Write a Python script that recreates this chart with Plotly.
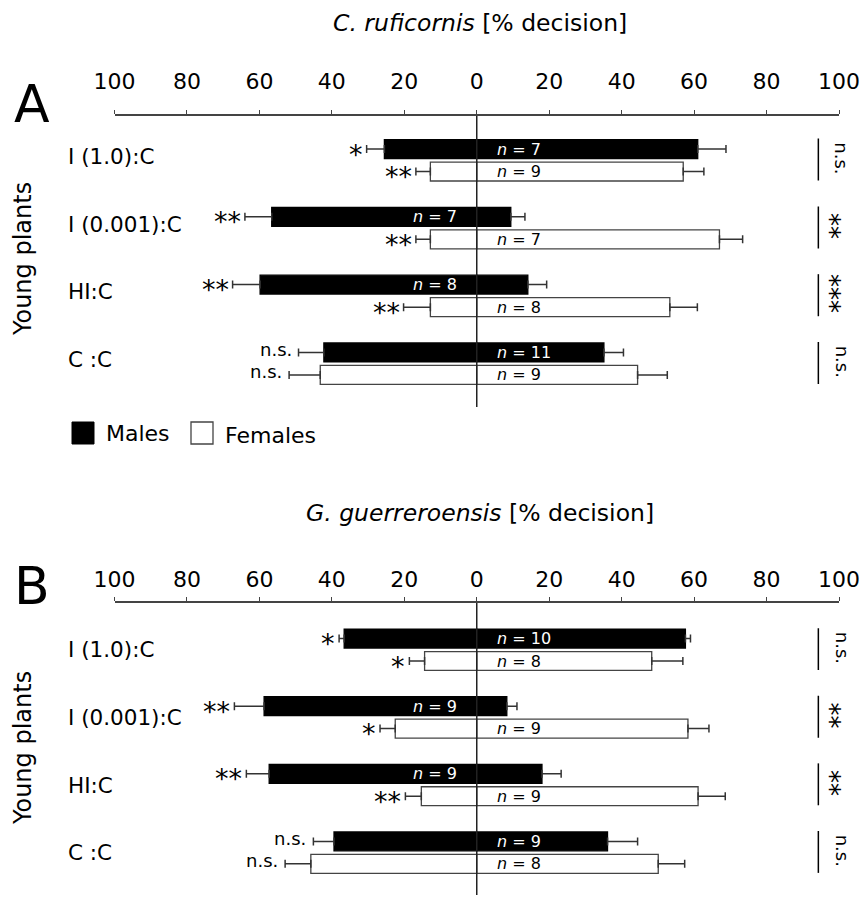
import numpy as np
import plotly.graph_objects as go

W, H = 863, 898

cats = ["I (1.0):C", "I (0.001):C", "HI:C", "C :C"]

# Panel A: C. ruficornis
A_male_left = [25.5, 56.6, 59.8, 42.2]
A_male_left_err = [4.9, 7.4, 7.6, 7.0]
A_male_right = [61.0, 9.4, 14.1, 35.1]
A_male_right_err = [7.8, 3.9, 5.2, 5.4]
A_fem_left = [12.8, 12.8, 12.8, 43.2]
A_fem_left_err = [4.0, 4.0, 7.4, 8.6]
A_fem_right = [57.0, 67.0, 53.3, 44.4]
A_fem_right_err = [5.7, 6.4, 7.6, 8.2]
A_male_n = [7, 7, 8, 11]
A_fem_n = [9, 7, 8, 9]
A_male_sig = ["*", "**", "**", "n.s."]
A_fem_sig = ["**", "**", "**", "n.s."]
A_pair_sig = ["n.s.", "**", "***", "n.s."]

# Panel B: G. guerreroensis
B_male_left = [36.6, 58.7, 57.3, 39.4]
B_male_left_err = [1.4, 8.2, 6.3, 5.7]
B_male_right = [57.6, 8.3, 18.0, 36.1]
B_male_right_err = [1.4, 2.8, 5.3, 8.3]
B_fem_left = [14.4, 22.5, 15.3, 45.8]
B_fem_left_err = [4.2, 4.2, 4.4, 7.1]
B_fem_right = [48.3, 58.3, 61.1, 50.1]
B_fem_right_err = [8.6, 5.8, 7.5, 7.3]
B_male_n = [10, 9, 9, 9]
B_fem_n = [8, 9, 9, 8]
B_male_sig = ["*", "**", "**", "n.s."]
B_fem_sig = ["*", "*", "**", "n.s."]
B_pair_sig = ["n.s.", "**", "**", "n.s."]

tick_vals = [-100, -80, -60, -40, -20, 0, 20, 40, 60, 80, 100]
tick_text = ["100", "80", "60", "40", "20", "0", "20", "40", "60", "80", "100"]

FONT = "DejaVu Sans, Verdana, sans-serif"
ERRC = "#333333"


def py(p):
    return 1 - p / H


def px(p):
    return p / W


fig = go.Figure()

panels = [
    dict(xa="x", ya="y", ml=A_male_left, mle=A_male_left_err, mr=A_male_right, mre=A_male_right_err,
         fl=A_fem_left, fle=A_fem_left_err, fr=A_fem_right, fre=A_fem_right_err,
         mn=A_male_n, fn=A_fem_n, ms=A_male_sig, fs=A_fem_sig, ps=A_pair_sig, lab_dy=-0.06),
    dict(xa="x2", ya="y2", ml=B_male_left, mle=B_male_left_err, mr=B_male_right, mre=B_male_right_err,
         fl=B_fem_left, fle=B_fem_left_err, fr=B_fem_right, fre=B_fem_right_err,
         mn=B_male_n, fn=B_fem_n, ms=B_male_sig, fs=B_fem_sig, ps=B_pair_sig, lab_dy=0.0),
]

OFF = 0.166
BW = 0.28
idx = np.arange(len(cats))
annotations = []
shapes = []

for p in panels:
    ym = idx - OFF
    yf = idx + OFF
    for sex, y, left, le, right, re_, fill, lc in [
        ("Males", ym, p["ml"], p["mle"], p["mr"], p["mre"], "black", "black"),
        ("Females", yf, p["fl"], p["fle"], p["fr"], p["fre"], "white", "#444444"),
    ]:
        fig.add_trace(go.Bar(
            x=[-v for v in left], y=y, orientation="h", width=BW,
            marker=dict(color=fill, line=dict(color=lc, width=1.3)),
            error_x=dict(type="data", symmetric=False, array=[0] * len(left), arrayminus=le,
                         color=ERRC, thickness=1.5, width=4),
            xaxis=p["xa"], yaxis=p["ya"], showlegend=False, name=sex))
        fig.add_trace(go.Bar(
            x=right, y=y, orientation="h", width=BW,
            marker=dict(color=fill, line=dict(color=lc, width=1.3)),
            error_x=dict(type="data", symmetric=False, array=re_, arrayminus=[0] * len(right),
                         color=ERRC, thickness=1.5, width=4),
            xaxis=p["xa"], yaxis=p["ya"], showlegend=False, name=sex))
    for i in range(len(cats)):
        for y, n, r, l, lerr, sig, col in [
            (ym[i], p["mn"][i], p["mr"][i], p["ml"][i], p["mle"][i], p["ms"][i], "white"),
            (yf[i], p["fn"][i], p["fr"][i], p["fl"][i], p["fle"][i], p["fs"][i], "black"),
        ]:
            if r < 20:
                nx, xa_ = -5, "right"
            else:
                nx, xa_ = 5, "left"
            annotations.append(dict(x=nx, y=y, xref=p["xa"], yref=p["ya"], text=f"<i>n</i> = {n}",
                                    showarrow=False, xanchor=xa_, yanchor="middle",
                                    font=dict(family=FONT, size=16, color=col)))
            star = sig.startswith("*")
            annotations.append(dict(x=-(l + lerr), y=y, xref=p["xa"], yref=p["ya"], text=sig,
                                    showarrow=False, xanchor="right", yanchor="middle",
                                    xshift=(-2 if star else -5),
                                    yshift=(-5 if star else 3),
                                    font=dict(family=FONT, size=(27 if star else 18), color="black")))
        shapes.append(dict(type="line", xref=p["xa"], yref=p["ya"], x0=94.3, x1=94.3,
                           y0=idx[i] - 0.32, y1=idx[i] + 0.3, line=dict(color="black", width=1.5)))
        pstar = p["ps"][i].startswith("*")
        annotations.append(dict(x=98.6, y=idx[i] - 0.03, xref=p["xa"], yref=p["ya"], text=p["ps"][i],
                                showarrow=False, textangle=90, xanchor="center", yanchor="middle",
                                xshift=(-4 if pstar else 8),
                                font=dict(family=FONT, size=(26 if pstar else 18), color="black")))
        annotations.append(dict(x=px(66), y=idx[i] + p["lab_dy"], xref="paper", yref=p["ya"], text=cats[i],
                                showarrow=False, xanchor="left", yanchor="middle",
                                font=dict(family=FONT, size=21.5, color="black")))
    shapes.append(dict(type="line", xref=p["xa"], yref=f"{p['ya']} domain", x0=0, x1=0, y0=0, y1=1,
                       line=dict(color="#222222", width=1.5)))

for txt, yy in [("<i>C. ruficornis</i> [% decision]", 23), ("<i>G. guerreroensis</i> [% decision]", 513)]:
    annotations.append(dict(x=px(480), y=py(yy), xref="paper", yref="paper", text=txt, showarrow=False,
                            xanchor="center", yanchor="middle", font=dict(family=FONT, size=23.5, color="black")))
for txt, yy in [("A", 104), ("B", 586)]:
    annotations.append(dict(x=px(32), y=py(yy), xref="paper", yref="paper", text=txt, showarrow=False,
                            xanchor="center", yanchor="middle", font=dict(family=FONT, size=52, color="black")))
for yy in [259, 748]:
    annotations.append(dict(x=px(23), y=py(yy), xref="paper", yref="paper", text="Young plants",
                            showarrow=False, textangle=-90, xanchor="center", yanchor="middle",
                            font=dict(family=FONT, size=24, color="black")))

# legend
shapes.append(dict(type="rect", xref="paper", yref="paper", x0=px(72), x1=px(94), y0=py(444), y1=py(422),
                   fillcolor="black", line=dict(color="black", width=1)))
shapes.append(dict(type="rect", xref="paper", yref="paper", x0=px(191), x1=px(213), y0=py(444), y1=py(422),
                   fillcolor="white", line=dict(color="#444444", width=1.3)))
annotations.append(dict(x=px(104), y=py(433), xref="paper", yref="paper", text="Males", showarrow=False,
                        xanchor="left", yanchor="middle", font=dict(family=FONT, size=22, color="black")))
annotations.append(dict(x=px(223), y=py(435), xref="paper", yref="paper", text="Females", showarrow=False,
                        xanchor="left", yanchor="middle", font=dict(family=FONT, size=22, color="black")))

xdom = [px(114.5), px(839)]
xcommon = dict(range=[-100, 100], side="top", showline=True, linecolor="#444444", linewidth=1.5,
               ticks="outside", ticklen=4, tickcolor="#444444", tickwidth=1.2,
               tickvals=tick_vals, ticktext=tick_text, showgrid=False, zeroline=False,
               tickfont=dict(family=FONT, size=22, color="black"), fixedrange=True, automargin=False)

fig.update_layout(
    width=W, height=H, autosize=False, margin=dict(l=0, r=0, t=0, b=0, pad=0),
    paper_bgcolor="white", plot_bgcolor="white",
    barmode="overlay", showlegend=False,
    xaxis=dict(domain=xdom, anchor="y", ticklabelstandoff=12, **xcommon),
    yaxis=dict(domain=[py(407), py(116)], range=[3.639, -0.653], visible=False, fixedrange=True),
    xaxis2=dict(domain=xdom, anchor="y2", ticklabelstandoff=1, **xcommon),
    yaxis2=dict(domain=[py(895), py(603)], range=[3.627, -0.692], visible=False, fixedrange=True),
    annotations=annotations, shapes=shapes,
)

fig.write_html("out.html", config={"displayModeBar": False, "responsive": False},
               post_script="document.body.style.margin='0px';")
